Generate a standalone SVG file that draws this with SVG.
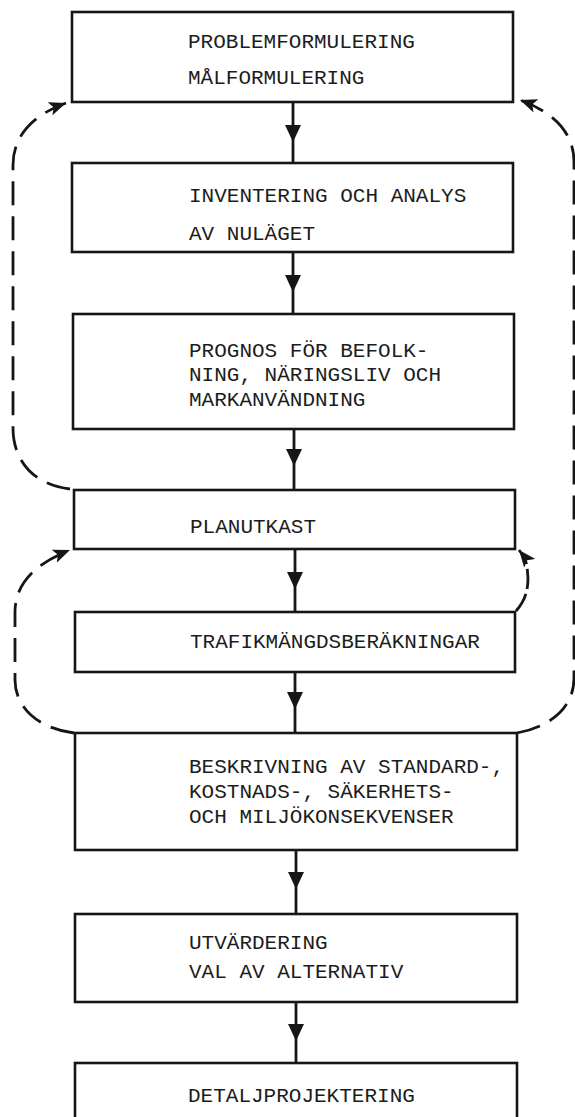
<svg xmlns="http://www.w3.org/2000/svg" width="575" height="1117" viewBox="0 0 575 1117">
<style>
.box{fill:#fff;stroke:#161616;stroke-width:2.6}
.t{font-family:"Liberation Mono","Courier New",monospace;font-size:21px;fill:#1c1c1c}
.ln{stroke:#161616;stroke-width:2.8;fill:none}
.ah{fill:#161616}
.dash{stroke:#161616;stroke-width:2.8;fill:none;stroke-dasharray:24 11;marker-end:url(#dh)}
</style>
<defs>
<marker id="dh" markerUnits="userSpaceOnUse" markerWidth="18" markerHeight="14" refX="17" refY="7" orient="auto">
<path d="M0,0 L17,7 L0,14 L4,7 z" fill="#161616"/>
</marker>
</defs>
<rect width="575" height="1117" fill="#fff"/>
<g id="connectors">
<line class="ln" x1="293" y1="102" x2="293" y2="163"/>
<polygon class="ah" points="285,125 301,125 293,142"/>
<line class="ln" x1="293" y1="252" x2="293" y2="314"/>
<polygon class="ah" points="285,275 301,275 293,292"/>
<line class="ln" x1="294" y1="429" x2="294" y2="490"/>
<polygon class="ah" points="286,449 302,449 294,466"/>
<line class="ln" x1="295" y1="549" x2="295" y2="612"/>
<polygon class="ah" points="287,572 303,572 295,589"/>
<line class="ln" x1="295" y1="672" x2="295" y2="733"/>
<polygon class="ah" points="287,692 303,692 295,709"/>
<line class="ln" x1="296" y1="850" x2="296" y2="914"/>
<polygon class="ah" points="288,872 304,872 296,889"/>
<line class="ln" x1="296" y1="1002" x2="296" y2="1063"/>
<polygon class="ah" points="288,1024 304,1024 296,1041"/>
<path class="dash" d="M70 489 C35 485 13 462 13 428 L13 165 C13 138 30 116 66 103"/>
<path class="dash" d="M517 733 C553 726 574 706 574 678 L574 162 C574 136 558 114 520 100"/>
<path class="dash" d="M74 733 C36 728 15 706 15 680 L15 612 C15 586 32 565 70 550"/>
<path class="dash" style="stroke-dasharray:20 5" d="M516 611 C524 602 528 592 528 578 L527 566 C526 560 523 555 519 550"/>
</g>
<g id="n1">
<rect class="box" x="72" y="12" width="441" height="90"/>
<text class="t" x="188" y="48">PROBLEMFORMULERING</text>
<text class="t" x="188" y="84">MÅLFORMULERING</text>
</g>
<g id="n2">
<rect class="box" x="72" y="163" width="441" height="89"/>
<text class="t" x="189" y="202">INVENTERING OCH ANALYS</text>
<text class="t" x="189" y="240">AV NULÄGET</text>
</g>
<g id="n3">
<rect class="box" x="73" y="314" width="441" height="115"/>
<text class="t" x="189" y="357">PROGNOS FÖR BEFOLK-</text>
<text class="t" x="189" y="381">NING, NÄRINGSLIV OCH</text>
<text class="t" x="189" y="406">MARKANVÄNDNING</text>
</g>
<g id="n4">
<rect class="box" x="74" y="490" width="441" height="59"/>
<text class="t" x="190" y="533">PLANUTKAST</text>
</g>
<g id="n5">
<rect class="box" x="75" y="612" width="440" height="60"/>
<text class="t" x="190" y="648">TRAFIKMÄNGDSBERÄKNINGAR</text>
</g>
<g id="n6">
<rect class="box" x="75" y="733" width="442" height="117"/>
<text class="t" x="189" y="773">BESKRIVNING AV STANDARD-,</text>
<text class="t" x="189" y="798">KOSTNADS-, SÄKERHETS-</text>
<text class="t" x="189" y="823">OCH MILJÖKONSEKVENSER</text>
</g>
<g id="n7">
<rect class="box" x="75" y="914" width="442" height="88"/>
<text class="t" x="189" y="949">UTVÄRDERING</text>
<text class="t" x="189" y="978">VAL AV ALTERNATIV</text>
</g>
<g id="n8">
<rect class="box" x="75" y="1063" width="442" height="70"/>
<text class="t" x="188" y="1102">DETALJPROJEKTERING</text>
</g>
</svg>
